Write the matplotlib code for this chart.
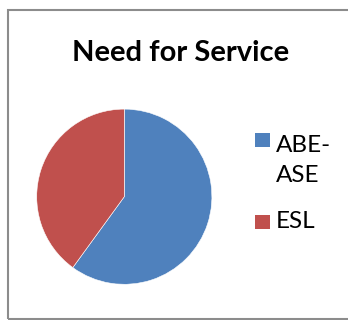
import matplotlib
matplotlib.use("Agg")
import matplotlib.pyplot as plt
from matplotlib.patches import Rectangle

title = "Need for Service"
categories = ["ABE-\nASE", "ESL"]
values = [60, 40]
colors = ["#4F81BD", "#C0504D"]

W, H = 348, 320
fig = plt.figure(figsize=(W / 100, H / 100), dpi=100)
fig.patch.set_facecolor("white")

def fx(px):
    return px / W

def fy(py):
    return 1 - py / H

# chart border
fig.patches.append(Rectangle((fx(7.5), fy(318.5)), fx(400), fy(9.5) - fy(318.5),
                             transform=fig.transFigure, fill=False,
                             edgecolor="#8c8c8c", linewidth=1.5))

# pie
cx, cy, r = 124.3, 196.7, 87.6
ax = fig.add_axes([fx(cx - r), fy(cy + r), fx(2 * r), (2 * r) / H])
ax.pie(values, colors=colors, startangle=90, counterclock=False,
       wedgeprops=dict(edgecolor="white", linewidth=0.4))
ax.set_xlim(-1, 1)
ax.set_ylim(-1, 1)
ax.set_aspect("equal")
ax.axis("off")

fig.text(fx(180.5), fy(61), title, ha="center", va="baseline",
         fontsize=21, fontweight="bold", family=["Lato", "DejaVu Sans"])

# legend
entries = [(132.5, 152.5), (214.5, 228.5)]
line_step = 29
for (sq_top, base), lab, col in zip(entries, categories, colors):
    fig.patches.append(Rectangle((fx(255), fy(sq_top + 14.5)), fx(14.5), 14.5 / H,
                                 transform=fig.transFigure, facecolor=col,
                                 edgecolor="none"))
    for i, line in enumerate(lab.split("\n")):
        fig.text(fx(276), fy(base + i * line_step), line, ha="left", va="baseline",
                 fontsize=17.5, family=["Lato", "DejaVu Sans"])

fig.savefig("out.png", dpi=100)
